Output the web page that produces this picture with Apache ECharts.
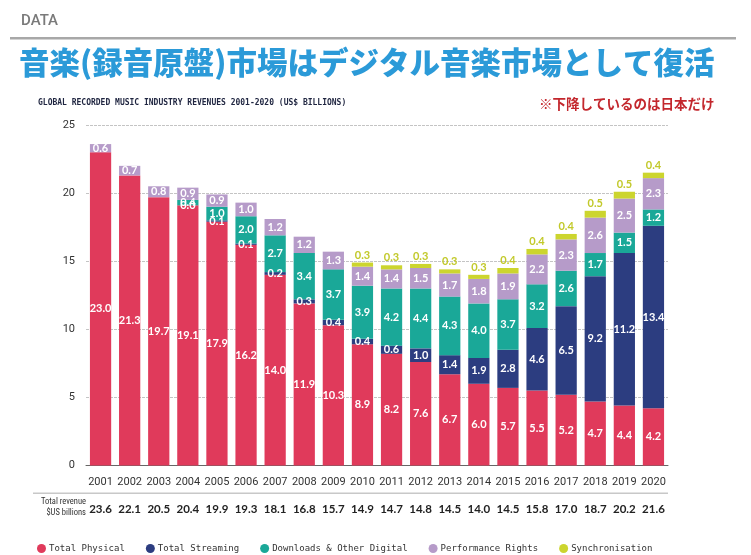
<!DOCTYPE html>
<html>
<head>
<meta charset="utf-8">
<script src="https://cdn.jsdelivr.net/npm/echarts@6/dist/echarts.min.js"></script>
<style>html,body{margin:0;padding:0;background:#fff;}#c{width:751px;height:555px;}</style>
</head>
<body>
<div id="c"></div>
<script>
const years = ['2001','2002','2003','2004','2005','2006','2007','2008','2009','2010','2011','2012','2013','2014','2015','2016','2017','2018','2019','2020'];
const physical = [23.0,21.3,19.7,19.1,17.9,16.2,14.0,11.9,10.3,8.9,8.2,7.6,6.7,6.0,5.7,5.5,5.2,4.7,4.4,4.2];
const streaming = [null,null,null,0.0,0.1,0.1,0.2,0.3,0.4,0.4,0.6,1.0,1.4,1.9,2.8,4.6,6.5,9.2,11.2,13.4];
const downloads = [null,null,null,0.4,1.0,2.0,2.7,3.4,3.7,3.9,4.2,4.4,4.3,4.0,3.7,3.2,2.6,1.7,1.5,1.2];
const performance = [0.6,0.7,0.8,0.9,0.9,1.0,1.2,1.2,1.3,1.4,1.4,1.5,1.7,1.8,1.9,2.2,2.3,2.6,2.5,2.3];
const sync = [null,null,null,null,null,null,null,null,null,0.3,0.3,0.3,0.3,0.3,0.4,0.4,0.4,0.5,0.5,0.4];
const totals = ['23.6','22.1','20.5','20.4','19.9','19.3','18.1','16.8','15.7','14.9','14.7','14.8','14.5','14.0','14.5','15.8','17.0','18.7','20.2','21.6'];
const yTicks = [0,5,10,15,20,25];

const chart = echarts.init(document.getElementById('c'), null, {renderer:'canvas'});
const inLabel = {show:true, position:'inside', color:'#fff', fontWeight:'bold', fontSize:11, fontFamily:'Lato, Open Sans, sans-serif',
  formatter: p => (p.value==null ? '' : p.value.toFixed(1))};
function mk(name, data, color, label){
  return {name, type:'bar', stack:'t', data, barCategoryGap:'27%', itemStyle:{color}, label: label || inLabel, emphasis:{disabled:true}};
}
chart.setOption({
  animation:false,
  title:[
    {text:'DATA', left:16, top:9, textStyle:{color:'#7a7a7a', fontSize:15, fontWeight:'500', fontFamily:'Roboto, sans-serif'}},
    {text:'音楽(録音原盤)市場はデジタル音楽市場として復活', left:14, top:42, textStyle:{color:'#2b9ad8', fontSize:30.5, fontWeight:900, fontFamily:'Noto Sans CJK JP'}},
    {text:'GLOBAL RECORDED MUSIC INDUSTRY REVENUES 2001-2020 (US$ BILLIONS)', left:33, top:94, textStyle:{color:'#1f2540', fontSize:8, fontWeight:'bold', fontFamily:'DejaVu Sans Mono'}},
    {text:'※下降しているのは日本だけ', left:534, top:92, textStyle:{color:'#c3272d', fontSize:13.5, fontWeight:'bold', fontFamily:'Noto Sans CJK JP'}}
  ],
  graphic:[
    {type:'rect', shape:{x:10, y:37, width:726, height:2.5}, style:{fill:'#a8a8a8'}},
    {type:'rect', shape:{x:33, y:492.5, width:635, height:1.5}, style:{fill:'#c8c8c8'}},
    {type:'text', style:{text:'Total revenue', x:86, y:502, align:'right', verticalAlign:'middle', fill:'#333', font:'8.5px "Liberation Sans Narrow", "Roboto Condensed", Roboto, sans-serif'}},
    {type:'text', style:{text:'$US billions', x:86, y:513, align:'right', verticalAlign:'middle', fill:'#333', font:'8.5px "Liberation Sans Narrow", "Roboto Condensed", Roboto, sans-serif'}}
  ],
  legend:{
    left:32, top:539, itemWidth:9, itemHeight:9, itemGap:21, icon:'circle',
    textStyle:{color:'#333', fontSize:9, fontFamily:'DejaVu Sans Mono', padding:[0,0,0,-2]},
    data:['Total Physical','Total Streaming','Downloads & Other Digital','Performance Rights','Synchronisation']
  },
  grid:{left:86, right:83, top:125, bottom:89.5},
  xAxis:[
    {type:'category', data:years, axisTick:{show:false}, axisLine:{lineStyle:{color:'#666', width:1}},
     axisLabel:{interval:0, color:'#333', fontSize:11, margin:11, fontFamily:'Roboto, sans-serif'}},
    {type:'category', data:years, position:'bottom', offset:28, axisTick:{show:false}, axisLine:{show:false},
     axisLabel:{interval:0, color:'#222', fontSize:11.5, fontWeight:'bold', margin:10, fontFamily:'Lato, sans-serif', formatter:(v,i)=>totals[i]}}
  ],
  yAxis:{type:'value', min:yTicks[0], max:yTicks[yTicks.length-1], interval:5,
    axisLine:{show:false}, axisTick:{show:false},
    axisLabel:{color:'#333', fontSize:11, margin:11, fontFamily:'Roboto, sans-serif'},
    splitLine:{lineStyle:{color:'#c4c4c4', width:1, type:[3,1]}}},
  series:[
    mk('Total Physical', physical, '#e03a5b'),
    mk('Total Streaming', streaming, '#2c3d80'),
    mk('Downloads & Other Digital', downloads, '#1aa898'),
    mk('Performance Rights', performance, '#b69bc9'),
    mk('Synchronisation', sync, '#ccd52e', {show:true, position:'top', distance:2, color:'#c2c92a', fontWeight:'bold', fontSize:11, fontFamily:'Lato, Open Sans, sans-serif',
      formatter: p => (p.value==null ? '' : p.value.toFixed(1))})
  ]
});
</script>
</body>
</html>
